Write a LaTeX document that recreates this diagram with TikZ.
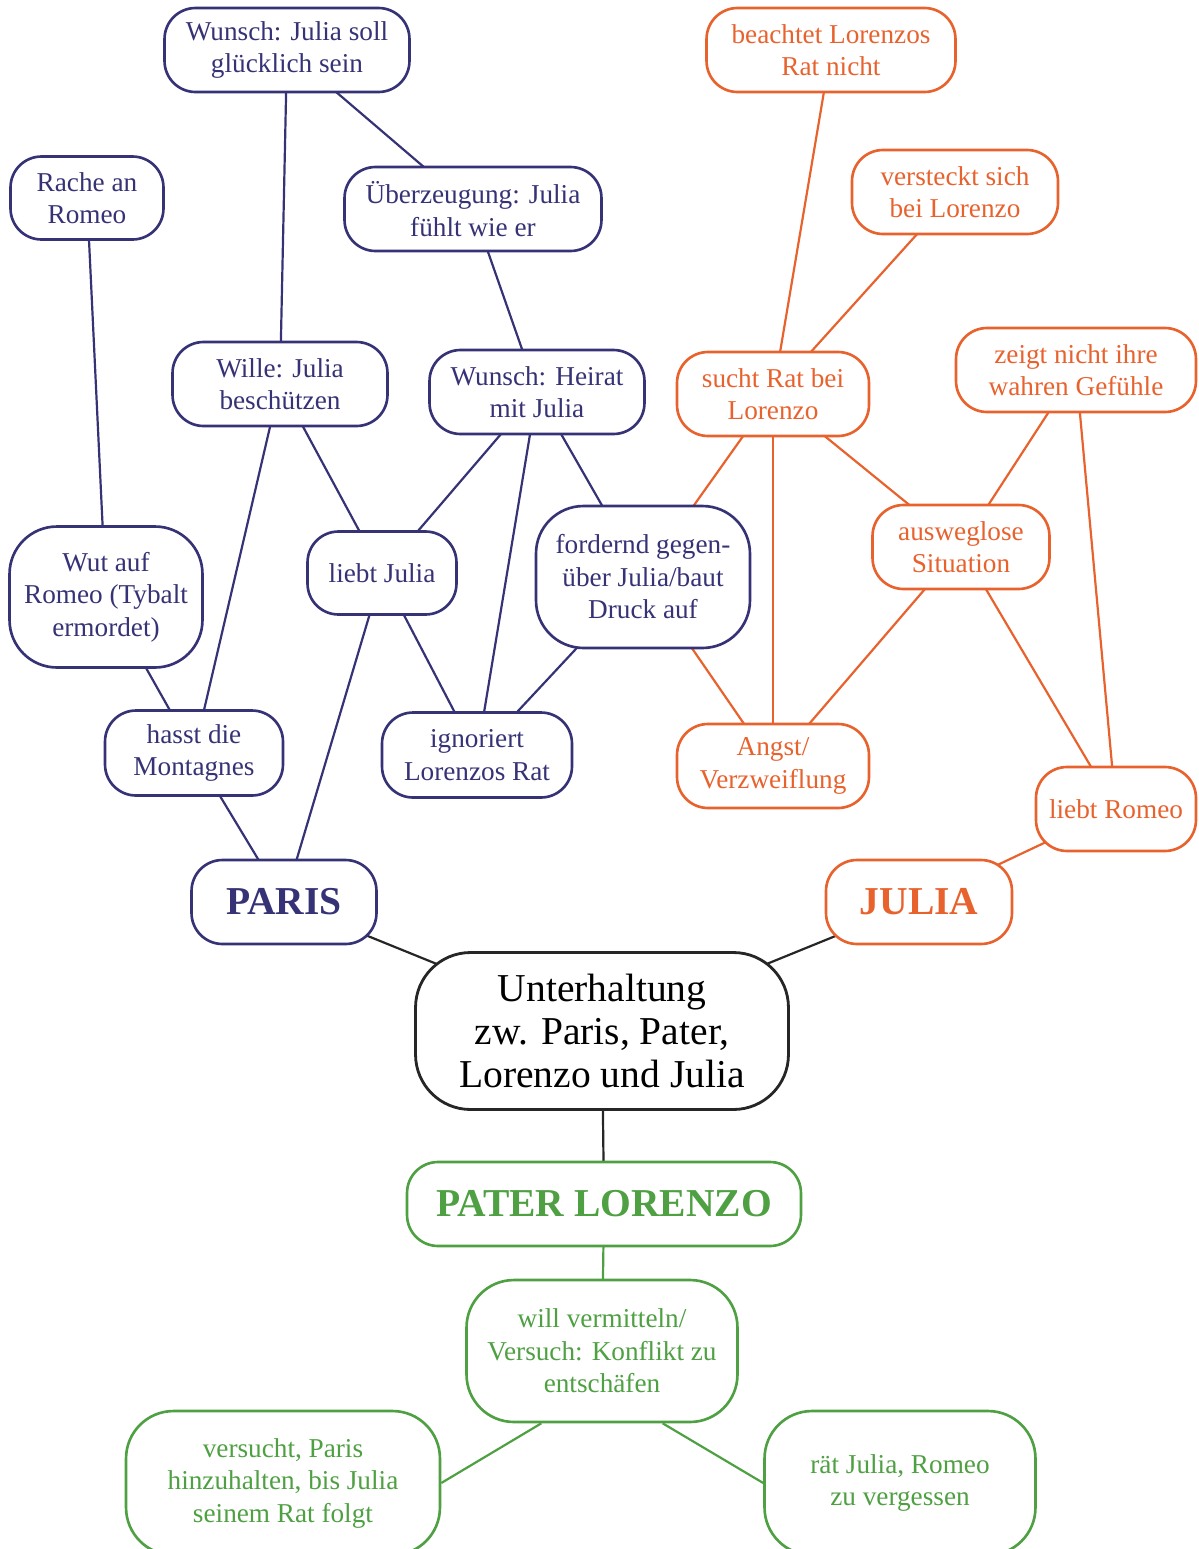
\documentclass[tikz,border=0pt]{standalone}
\usepackage{fontspec}
\setmainfont{Liberation Serif}
\usetikzlibrary{backgrounds}
\definecolor{parisblue}{RGB}{54,50,118}
\definecolor{juliaorange}{RGB}{232,98,46}
\definecolor{patergreen}{RGB}{78,160,66}

\begin{document}
\begin{tikzpicture}[x=0.02cm, y=-0.02cm,
  bubble/.style={draw, fill=white, rounded corners=0.62cm, line width=1.5pt, align=center,
    inner sep=2pt, font=\fontsize{15.5}{18.5}\selectfont},
  tall/.style={rounded corners=0.95cm},
  head/.style={font=\fontsize{22.5}{26}\selectfont\bfseries},
  pbox/.style={bubble, draw=parisblue, text=parisblue},
  jbox/.style={bubble, draw=juliaorange, text=juliaorange},
  lbox/.style={bubble, draw=patergreen, text=patergreen},
  pline/.style={draw=parisblue, line width=1.25pt},
  jline/.style={draw=juliaorange, line width=1.25pt},
  lline/.style={draw=patergreen, line width=1.25pt},
  kline/.style={draw=black!85, line width=1.25pt}]
\useasboundingbox (0,0) rectangle (1198,1549);
\clip (0,0) rectangle (1198,1549);

% Mitte
\node[bubble, draw=black!85, line width=1.6pt, rounded corners=1.1cm,
  minimum width=7.46cm, minimum height=3.14cm,
  font=\fontsize{22.5}{24.5}\selectfont] (talk) at (602,1031)
  {Unterhaltung\\zw. Paris, Pater,\\Lorenzo und Julia};

% Paris
\node[pbox, minimum width=4.9cm, minimum height=1.68cm] (gluecklich) at (287,50) {Wunsch: Julia soll\\glücklich sein};
\node[pbox, minimum width=3.06cm, minimum height=1.66cm] (rache) at (87,198) {Rache an\\Romeo};
\node[pbox, minimum width=5.14cm, minimum height=1.68cm] (ueberzeugt) at (473,209) {Überzeugung: Julia\\fühlt wie er};
\node[pbox, minimum width=4.3cm, minimum height=1.68cm] (schutz) at (280,384) {Wille: Julia\\beschützen};
\node[pbox, minimum width=4.3cm, minimum height=1.68cm] (heirat) at (537,392) {Wunsch: Heirat\\mit Julia};
\node[pbox, tall, minimum width=3.86cm, minimum height=2.82cm] (wut) at (106,597) {Wut auf\\Romeo (Tybalt\\ermordet)};
\node[pbox, minimum width=2.98cm, minimum height=1.66cm] (liebtjulia) at (382,573) {liebt Julia};
\node[pbox, tall, minimum width=4.28cm, minimum height=2.84cm] (druck) at (643,577) {fordernd gegen-\\über Julia/baut\\Druck auf};
\node[pbox, minimum width=3.56cm, minimum height=1.7cm] (hass) at (194,753) {hasst die\\Montagnes};
\node[pbox, minimum width=3.8cm, minimum height=1.7cm] (ignoriert) at (477,755) {ignoriert\\Lorenzos Rat};
\node[pbox, head, minimum width=3.7cm, minimum height=1.68cm] (paris) at (284,902) {PARIS};

% Julia
\node[jbox, minimum width=4.98cm, minimum height=1.68cm] (beachtet) at (831,50) {beachtet Lorenzos\\Rat nicht};
\node[jbox, minimum width=4.12cm, minimum height=1.68cm] (versteckt) at (955,192) {versteckt sich\\bei Lorenzo};
\node[jbox, minimum width=3.84cm, minimum height=1.68cm] (rat) at (773,394) {sucht Rat bei\\Lorenzo};
\node[jbox, minimum width=4.8cm, minimum height=1.68cm] (gefuehle) at (1076,370) {zeigt nicht ihre\\wahren Gefühle};
\node[jbox, minimum width=3.54cm, minimum height=1.68cm] (ausweglos) at (961,547) {ausweglose\\Situation};
\node[jbox, minimum width=3.84cm, minimum height=1.68cm] (angst) at (773,766) {Angst/\\Verzweiflung};
\node[jbox, minimum width=3.2cm, minimum height=1.68cm] (liebtromeo) at (1116,809) {liebt Romeo};
\node[jbox, head, minimum width=3.72cm, minimum height=1.68cm] (julia) at (919,902) {JULIA};

% Lorenzo
\node[lbox, head, minimum width=7.88cm, minimum height=1.68cm] (pater) at (604,1204) {PATER LORENZO};
\node[lbox, tall, minimum width=5.42cm, minimum height=2.84cm] (vermitteln) at (602,1351) {will vermitteln/\\Versuch: Konflikt zu\\entschäfen};
\node[lbox, tall, minimum width=6.28cm, minimum height=2.88cm] (hinhalten) at (283,1483) {versucht, Paris\\hinzuhalten, bis Julia\\seinem Rat folgt};
\node[lbox, tall, minimum width=5.42cm, minimum height=2.88cm] (vergessen) at (900,1483) {rät Julia, Romeo\\zu vergessen};

% Verbindungen (hinter den Knoten)
\begin{scope}[on background layer]
\draw[pline] (gluecklich.center) -- (schutz.center);
\draw[pline] (gluecklich.center) -- (ueberzeugt.center);
\draw[pline] (ueberzeugt.center) -- (heirat.center);
\draw[pline] (rache.center) -- (wut.center);
\draw[pline] (schutz.center) -- (hass.center);
\draw[pline] (schutz.center) -- (liebtjulia.center);
\draw[pline] (heirat.center) -- (liebtjulia.center);
\draw[pline] (heirat.center) -- (ignoriert.center);
\draw[pline] (heirat.center) -- (druck.center);
\draw[pline] (wut.center) -- (hass.center);
\draw[pline] (liebtjulia.center) -- (ignoriert.center);
\draw[pline] (liebtjulia.center) -- (paris.center);
\draw[pline] (druck.center) -- (ignoriert.center);
\draw[pline] (hass.center) -- (paris.center);

\draw[jline] (beachtet.center) -- (rat.center);
\draw[jline] (versteckt.center) -- (rat.center);
\draw[jline] (rat.center) -- (druck.center);
\draw[jline] (rat.center) -- (angst.center);
\draw[jline] (rat.center) -- (ausweglos.center);
\draw[jline] (gefuehle.center) -- (ausweglos.center);
\draw[jline] (gefuehle.center) -- (liebtromeo.center);
\draw[jline] (ausweglos.center) -- (angst.center);
\draw[jline] (ausweglos.center) -- (liebtromeo.center);
\draw[jline] (druck.center) -- (angst.center);
\draw[jline] (liebtromeo.center) -- (julia.center);

\draw[kline] (paris.center) -- (talk.center);
\draw[kline] (julia.center) -- (talk.center);
\draw[kline] (talk.center) -- (pater.center);

\draw[lline] (pater.center) -- (vermitteln.center);
\draw[lline] (vermitteln.230) -- (hinhalten.east);
\draw[lline] (vermitteln.310) -- (vergessen.west);
\end{scope}
\end{tikzpicture}
\end{document}
